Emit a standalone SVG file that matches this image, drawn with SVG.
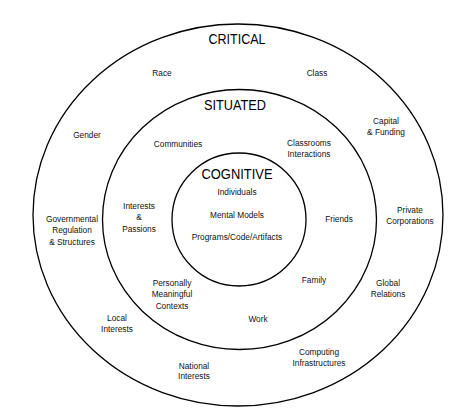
<svg xmlns="http://www.w3.org/2000/svg" width="468" height="412" viewBox="0 0 468 412">
<style>
.ring{fill:none;stroke:#000;stroke-width:1.3}
.t{font-family:"Liberation Sans",Arial,sans-serif;font-size:8.3px;fill:#111;text-anchor:middle}
.h{font-family:"Liberation Sans",Arial,sans-serif;font-size:15px;fill:#000;text-anchor:middle}
</style>
<rect width="468" height="412" fill="#fff"/>
<g id="critical">
<ellipse class="ring" cx="238" cy="215" rx="205" ry="191"/>
<text class="h" x="237" y="44" textLength="57" lengthAdjust="spacingAndGlyphs">CRITICAL</text>
<text class="t" x="162" y="76">Race</text>
<text class="t" x="317" y="76">Class</text>
<text class="t" x="386" y="124">Capital</text>
<text class="t" x="386" y="135">&amp; Funding</text>
<text class="t" x="87" y="138">Gender</text>
<text class="t" x="72" y="222">Governmental</text>
<text class="t" x="72" y="233">Regulation</text>
<text class="t" x="72" y="245">&amp; Structures</text>
<text class="t" x="410" y="213">Private</text>
<text class="t" x="410" y="224">Corporations</text>
<text class="t" x="388" y="286">Global</text>
<text class="t" x="388" y="297">Relations</text>
<text class="t" x="117" y="321">Local</text>
<text class="t" x="117" y="332">Interests</text>
<text class="t" x="319" y="355">Computing</text>
<text class="t" x="319" y="366">Infrastructures</text>
<text class="t" x="194" y="369">National</text>
<text class="t" x="194" y="379">Interests</text>
</g>
<g id="situated">
<ellipse class="ring" cx="239.5" cy="219.5" rx="137" ry="130"/>
<text class="h" x="235" y="110" textLength="62" lengthAdjust="spacingAndGlyphs">SITUATED</text>
<text class="t" x="178" y="147">Communities</text>
<text class="t" x="309" y="146">Classrooms</text>
<text class="t" x="309" y="157">Interactions</text>
<text class="t" x="139" y="209">Interests</text>
<text class="t" x="139" y="220">&amp;</text>
<text class="t" x="139" y="232">Passions</text>
<text class="t" x="339" y="222">Friends</text>
<text class="t" x="314" y="283">Family</text>
<text class="t" x="172" y="286">Personally</text>
<text class="t" x="172" y="297">Meaningful</text>
<text class="t" x="172" y="309">Contexts</text>
<text class="t" x="258" y="322">Work</text>
</g>
<g id="cognitive">
<ellipse class="ring" cx="239" cy="219.5" rx="67" ry="66.5"/>
<text class="h" x="237" y="179" textLength="71" lengthAdjust="spacingAndGlyphs">COGNITIVE</text>
<text class="t" x="237" y="195">Individuals</text>
<text class="t" x="237" y="218">Mental Models</text>
<text class="t" x="237" y="240">Programs/Code/Artifacts</text>
</g>
<g id="connectors"/>
</svg>
